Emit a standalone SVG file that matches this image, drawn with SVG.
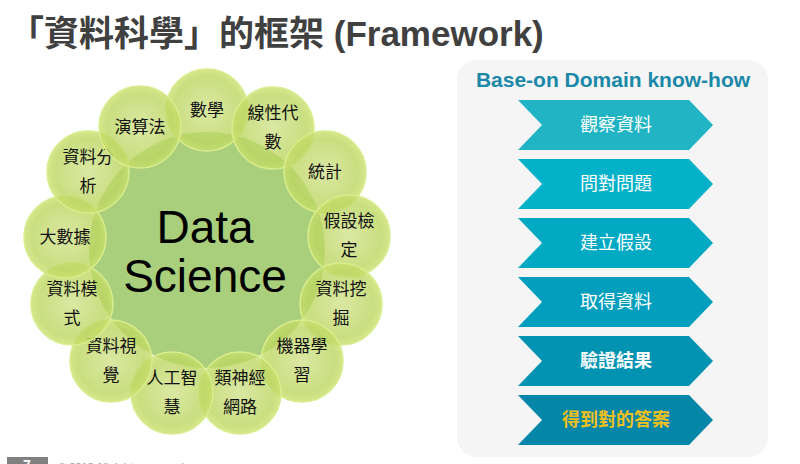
<svg xmlns="http://www.w3.org/2000/svg" width="800" height="464" viewBox="0 0 800 464">
<defs>
<radialGradient id="bub" cx="50%" cy="50%" r="50%">
<stop offset="0" stop-color="#d2e28c"/>
<stop offset="0.8" stop-color="#bcd661"/>
<stop offset="1" stop-color="#c9e06c"/>
</radialGradient>
<style>
.bub{fill:url(#bub);fill-opacity:0.8;stroke:#d9ec8e;stroke-width:1.5}
.lbl{font-family:"Noto Sans CJK TC","Liberation Sans",sans-serif;font-size:17px;fill:#111;text-anchor:middle}
.chev text{font-family:"Noto Sans CJK TC","Liberation Sans",sans-serif;font-size:18px;fill:#fff;text-anchor:middle}
</style>
</defs>
<rect width="800" height="464" fill="#fff"/>
<text x="9" y="46" font-family="'Liberation Sans','Noto Sans CJK TC',sans-serif" font-weight="bold" font-size="35" fill="#404040">「資料科學」的框架 (Framework)</text>

<g id="core">
<circle cx="207" cy="250" r="118" fill="#a9cf7c"/>
</g>
<g id="n-math"><circle class="bub" cx="207" cy="110" r="41"/><text class="lbl" x="207" y="116">數學</text></g>
<g id="n-linalg"><circle class="bub" cx="273" cy="128" r="41"/><text class="lbl" x="273" y="119">線性代</text><text class="lbl" x="273" y="148">數</text></g>
<g id="n-stat"><circle class="bub" cx="325" cy="172" r="41"/><text class="lbl" x="325" y="178">統計</text></g>
<g id="n-hyp"><circle class="bub" cx="349" cy="236" r="41"/><text class="lbl" x="349" y="227">假設檢</text><text class="lbl" x="349" y="256">定</text></g>
<g id="n-mining"><circle class="bub" cx="341" cy="304" r="41"/><text class="lbl" x="341" y="295">資料挖</text><text class="lbl" x="341" y="324">掘</text></g>
<g id="n-ml"><circle class="bub" cx="302" cy="361" r="41"/><text class="lbl" x="302" y="352">機器學</text><text class="lbl" x="302" y="381">習</text></g>
<g id="n-nn"><circle class="bub" cx="240" cy="393" r="41"/><text class="lbl" x="240" y="384">類神經</text><text class="lbl" x="240" y="413">網路</text></g>
<g id="n-ai"><circle class="bub" cx="172" cy="393" r="41"/><text class="lbl" x="172" y="384">人工智</text><text class="lbl" x="172" y="413">慧</text></g>
<g id="n-vis"><circle class="bub" cx="111" cy="361" r="41"/><text class="lbl" x="111" y="352">資料視</text><text class="lbl" x="111" y="381">覺</text></g>
<g id="n-model"><circle class="bub" cx="72" cy="304" r="41"/><text class="lbl" x="72" y="295">資料模</text><text class="lbl" x="72" y="324">式</text></g>
<g id="n-big"><circle class="bub" cx="65" cy="237" r="41"/><text class="lbl" x="65" y="243">大數據</text></g>
<g id="n-ana"><circle class="bub" cx="88" cy="172" r="41"/><text class="lbl" x="88" y="163">資料分</text><text class="lbl" x="88" y="192">析</text></g>
<g id="n-algo"><circle class="bub" cx="140" cy="127" r="41"/><text class="lbl" x="140" y="133">演算法</text></g>

<g id="core-label" font-family="'Liberation Sans',Arial,sans-serif" font-size="46" fill="#000" text-anchor="middle">
<text x="205" y="243">Data</text>
<text x="205" y="292">Science</text>
</g>

<g id="panel">
<rect x="457" y="60" width="311" height="397" rx="20" fill="#f5f5f5"/>
<text x="613" y="87" font-family="'Liberation Sans',Arial,sans-serif" font-weight="bold" font-size="21" fill="#1a88a8" text-anchor="middle">Base-on Domain know-how</text>
</g>

<g id="s1" class="chev"><path d="M518,100 H689 L713,125 L689,150 H518 L542,125 Z" fill="#20b4c4"/><text x="616" y="131">觀察資料</text></g>
<g id="s2" class="chev"><path d="M518,159 H689 L713,184 L689,209 H518 L542,184 Z" fill="#03b1c8"/><text x="616" y="190">問對問題</text></g>
<g id="s3" class="chev"><path d="M518,218 H689 L713,243 L689,268 H518 L542,243 Z" fill="#01a9c3"/><text x="616" y="249">建立假設</text></g>
<g id="s4" class="chev"><path d="M518,277 H689 L713,302 L689,327 H518 L542,302 Z" fill="#019fbd"/><text x="616" y="308">取得資料</text></g>
<g id="s5" class="chev"><path d="M518,336 H689 L713,361 L689,386 H518 L542,361 Z" fill="#0293b3"/><text x="616" y="367" font-weight="bold">驗證結果</text></g>
<g id="s6" class="chev"><path d="M518,395 H689 L713,420 L689,445 H518 L542,420 Z" fill="#0386a8"/><text x="616" y="426" font-weight="bold" style="fill:#f2c01c">得到對的答案</text></g>

<g id="connectors"></g>

<g id="footer">
<rect x="7" y="457" width="41" height="12" fill="#808080"/>
<text x="27" y="470" font-family="'Liberation Sans',Arial,sans-serif" font-weight="bold" font-size="14" fill="#fff" text-anchor="middle">7</text>
<text x="58" y="471" font-family="'Liberation Sans',Arial,sans-serif" font-size="11" fill="#999">© 2018 All rights reserved.</text>
</g>
</svg>
